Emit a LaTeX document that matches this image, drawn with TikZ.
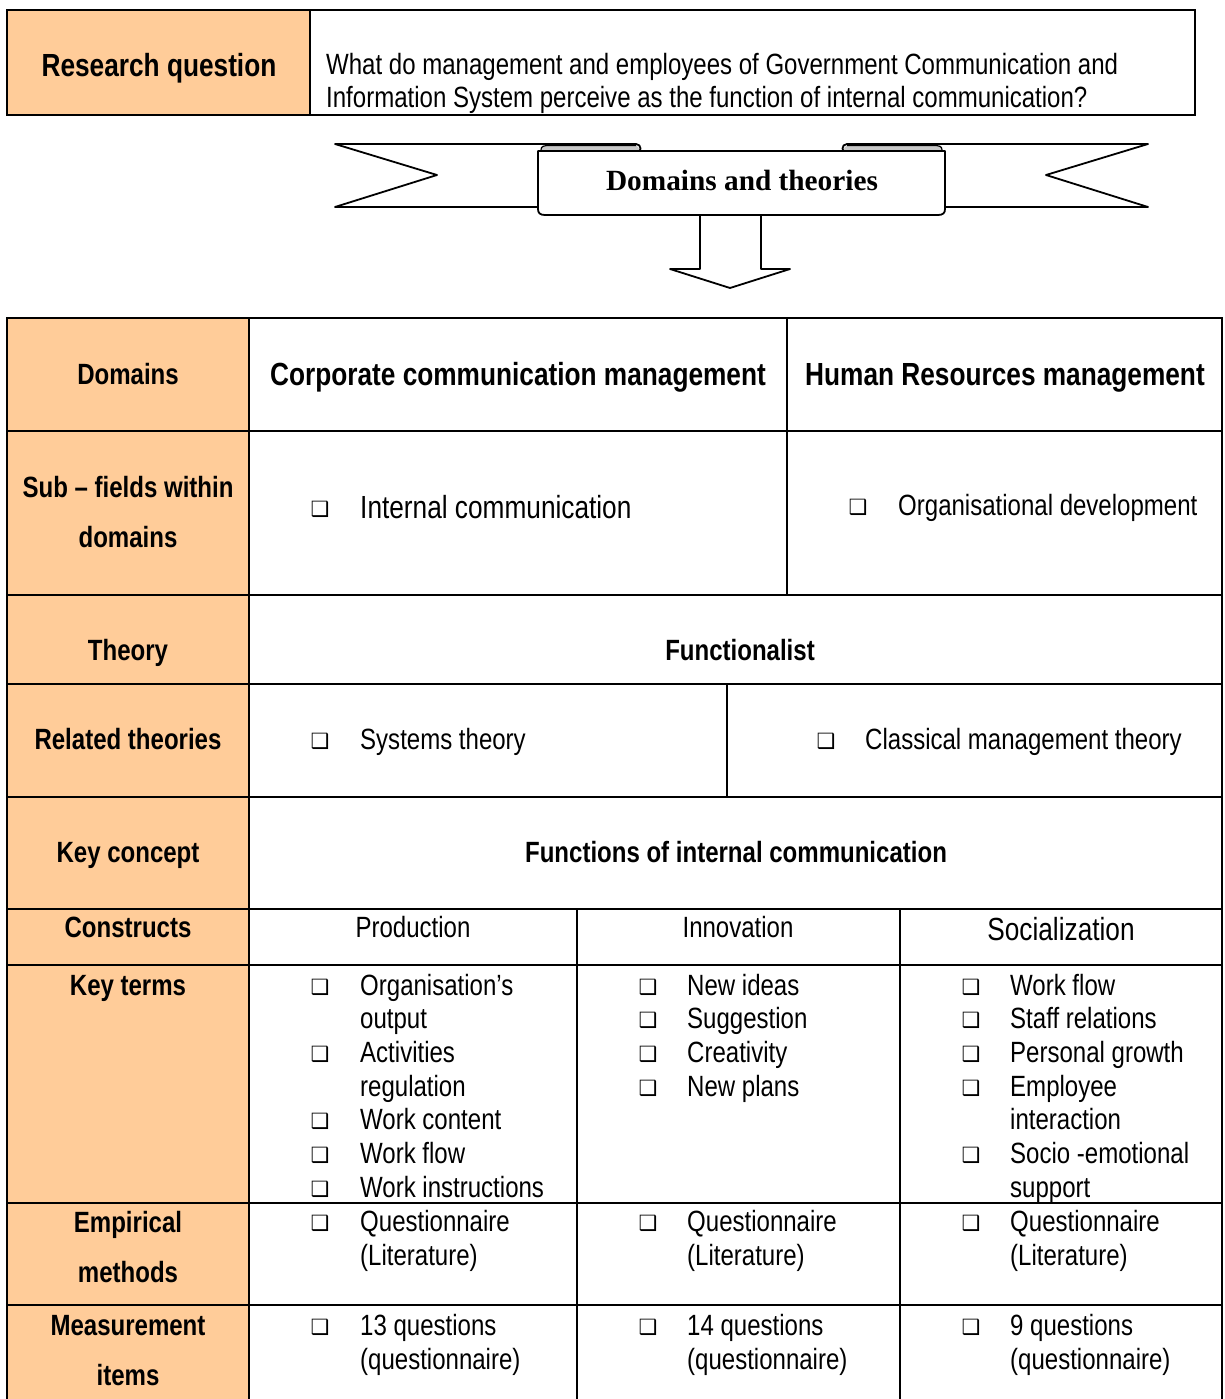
\documentclass[tikz,border=0pt]{standalone}
\usepackage{fontspec}
\setmainfont{Liberation Sans}[FakeStretch=0.82]
\newfontfamily\ribbonfont{Liberation Serif}
\newfontfamily\tickfont{DejaVu Sans}
\definecolor{peach}{HTML}{FFCC99}
\definecolor{foldgray}{HTML}{C8C8C8}

\tikzset{
  rule/.style={line width=2pt, line cap=rect},
  bline/.style={line width=1.8pt, line join=round},
  lab/.style={font=\fontsize{29.3}{33.7}\selectfont\bfseries, anchor=base, inner sep=0pt},
  head/.style={font=\fontsize{32}{36.8}\selectfont\bfseries, anchor=base, inner sep=0pt},
  txt/.style={font=\fontsize{29.3}{33.7}\selectfont, anchor=base west, inner sep=0pt},
  ctxt/.style={font=\fontsize{29.3}{33.7}\selectfont, anchor=base, inner sep=0pt},
  bigtxt/.style={font=\fontsize{32}{36.8}\selectfont, anchor=base west, inner sep=0pt},
  bigctxt/.style={font=\fontsize{32}{36.8}\selectfont, anchor=base, inner sep=0pt},
  tick/.style={font=\tickfont\fontsize{21}{21}\selectfont, anchor=base, inner sep=0pt},
}
\newcommand\tk[3]{\node[tick] (#1) at (#2,#3-1) {❑};}

\begin{document}
\begin{tikzpicture}[x=1pt,y=-1pt]
\useasboundingbox (0,0) rectangle (1224,1399);
\fill[white] (0,0) rectangle (1224,1399);

% ---------- research question box ----------
\fill[peach] (7,10) rectangle (310,115);
\draw[line width=2.2pt] (7,10) rectangle (1195,115);
\draw[line width=2.2pt] (310,10) -- (310,115);
\node[head] (rq) at (159,77) {Research question};
\node[txt] (q1) at (326,75) {What do management and employees of Government Communication and};
\node[txt] (q2) at (326,108) {Information System perceive as the function of internal communication?};

% ---------- ribbon banner ----------
% tails
\draw[bline, fill=white] (560,207) -- (335,207) -- (437,175) -- (335,144) -- (636,144)
  .. controls (642,144) and (642,153) .. (636,153);
\draw[bline, fill=white] (923,207) -- (1148,207) -- (1046,175) -- (1148,144) -- (847,144)
  .. controls (841,144) and (841,153) .. (847,153);
% folded lips
\fill[foldgray] (542,146) -- (636,146) .. controls (640,146) and (640,153) .. (636,153) -- (542,153) -- cycle;
\fill[foldgray] (941,146) -- (847,146) .. controls (843,146) and (843,153) .. (847,153) -- (941,153) -- cycle;
\draw[line width=1.2pt] (541,150) .. controls (541,146) and (544,145.5) .. (550,145.5) -- (636,145.5);
\draw[line width=1.2pt] (942,150) .. controls (942,146) and (939,145.5) .. (933,145.5) -- (847,145.5);
% centre panel
\draw[bline, fill=white] (538,151) -- (538,209) .. controls (538,213) and (540,215) .. (545,215)
  -- (938,215) .. controls (943,215) and (945,213) .. (945,209) -- (945,151) -- cycle;
\node[font=\ribbonfont\fontsize{29.3}{33.7}\selectfont\bfseries, anchor=base, inner sep=0pt]
  (banner) at (742,190) {Domains and theories};
% block arrow
\draw[bline, fill=white] (700,216) -- (700,269) -- (670,269) -- (730,288) -- (790,269) -- (761,269) -- (761,216);

% ---------- main table ----------
\fill[peach] (7,318) rectangle (249,1399);
\begin{scope}[rule]
  % outer frame
  \draw (7,1399) -- (7,318) -- (1222,318) -- (1222,1399);
  % row rules
  \foreach \yy in {431,595,684,797,909,965,1203,1305}
    \draw (7,\yy) -- (1222,\yy);
  % label column
  \draw (249,318) -- (249,1399);
  % column splits
  \draw (787,318) -- (787,595);
  \draw (727,684) -- (727,797);
  \draw (577,909) -- (577,1399);
  \draw (900,909) -- (900,1399);
\end{scope}

% label column
\node[lab] (lDom) at (128,384) {Domains};
\node[lab] (lSub1) at (128,497) {Sub – fields within};
\node[lab] (lSub2) at (128,547) {domains};
\node[lab] (lThe) at (128,660) {Theory};
\node[lab] (lRel) at (128,749) {Related theories};
\node[lab] (lKey) at (128,862) {Key concept};
\node[lab] (lCon) at (128,937) {Constructs};
\node[lab] (lTer) at (128,995) {Key terms};
\node[lab] (lEmp1) at (128,1232) {Empirical};
\node[lab] (lEmp2) at (128,1282) {methods};
\node[lab] (lMea1) at (128,1335) {Measurement};
\node[lab] (lMea2) at (128,1385) {items};

% domains
\node[head] (dCorp) at (518,385) {Corporate communication management};
\node[head] (dHR) at (1005,385) {Human Resources management};

% sub-fields
\tk{tkIC}{320}{517}
\node[bigtxt] (sIC) at (360,518) {Internal communication};
\tk{tkOD}{858}{515}
\node[txt] (sOD) at (898,515) {Organisational development};

% theory
\node[lab] (tFun) at (740,660) {Functionalist};

% related theories
\tk{tkSys}{320}{749}
\node[txt] (rSys) at (360,749) {Systems theory};
\tk{tkCla}{826}{749}
\node[txt] (rCla) at (865,749) {Classical management theory};

% key concept
\node[lab] (kFun) at (736,862) {Functions of internal communication};

% constructs
\node[ctxt] (cPro) at (413,937) {Production};
\node[ctxt] (cInn) at (738,937) {Innovation};
\node[bigctxt] (cSoc) at (1061,940) {Socialization};

% key terms: production
\tk{tkP1}{320}{995}
\node[txt] (kP1a) at (360,995) {Organisation’s};
\node[txt] (kP1b) at (360,1028.7) {output};
\tk{tkP2}{320}{1062.4}
\node[txt] (kP2a) at (360,1062.4) {Activities};
\node[txt] (kP2b) at (360,1096.1) {regulation};
\tk{tkP3}{320}{1129.8}
\node[txt] (kP3) at (360,1129.8) {Work content};
\tk{tkP4}{320}{1163.5}
\node[txt] (kP4) at (360,1163.5) {Work flow};
\tk{tkP5}{320}{1197.2}
\node[txt] (kP5) at (360,1197.2) {Work instructions};

% key terms: innovation
\tk{tkI1}{648}{995}
\node[txt] (kI1) at (687,995) {New ideas};
\tk{tkI2}{648}{1028.7}
\node[txt] (kI2) at (687,1028.7) {Suggestion};
\tk{tkI3}{648}{1062.4}
\node[txt] (kI3) at (687,1062.4) {Creativity};
\tk{tkI4}{648}{1096.1}
\node[txt] (kI4) at (687,1096.1) {New plans};

% key terms: socialization
\tk{tkS1}{971}{995}
\node[txt] (kS1) at (1010,995) {Work flow};
\tk{tkS2}{971}{1028.7}
\node[txt] (kS2) at (1010,1028.7) {Staff relations};
\tk{tkS3}{971}{1062.4}
\node[txt] (kS3) at (1010,1062.4) {Personal growth};
\tk{tkS4}{971}{1096.1}
\node[txt] (kS4a) at (1010,1096.1) {Employee};
\node[txt] (kS4b) at (1010,1129.8) {interaction};
\tk{tkS5}{971}{1163.5}
\node[txt] (kS5a) at (1010,1163.5) {Socio -emotional};
\node[txt] (kS5b) at (1010,1197.2) {support};

% empirical methods
\tk{tkE1}{320}{1231}
\node[txt] (eP1) at (360,1231) {Questionnaire};
\node[txt] (eP2) at (360,1265) {(Literature)};
\tk{tkE2}{648}{1231}
\node[txt] (eI1) at (687,1231) {Questionnaire};
\node[txt] (eI2) at (687,1265) {(Literature)};
\tk{tkE3}{971}{1231}
\node[txt] (eS1) at (1010,1231) {Questionnaire};
\node[txt] (eS2) at (1010,1265) {(Literature)};

% measurement items
\tk{tkM1}{320}{1335}
\node[txt] (mP1) at (360,1335) {13 questions};
\node[txt] (mP2) at (360,1369) {(questionnaire)};
\tk{tkM2}{648}{1335}
\node[txt] (mI1) at (687,1335) {14 questions};
\node[txt] (mI2) at (687,1369) {(questionnaire)};
\tk{tkM3}{971}{1335}
\node[txt] (mS1) at (1010,1335) {9 questions};
\node[txt] (mS2) at (1010,1369) {(questionnaire)};
\end{tikzpicture}
\end{document}
